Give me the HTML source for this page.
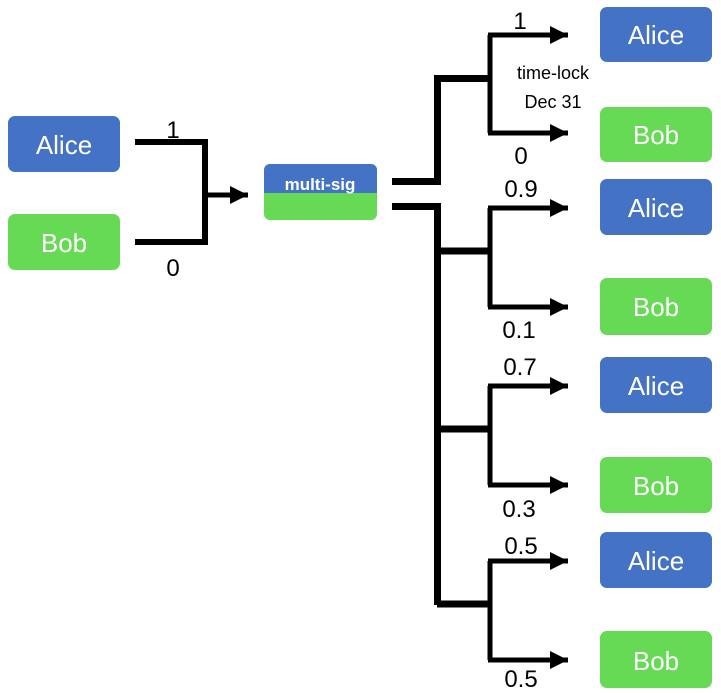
<!DOCTYPE html>
<html><head><meta charset="utf-8"><style>
html,body{margin:0;padding:0;background:#fff;}
svg{display:block;}
text{font-family:"Liberation Sans","DejaVu Sans",sans-serif;}
</style></head><body>
<svg width="721" height="693" viewBox="0 0 721 693" xmlns="http://www.w3.org/2000/svg">
<defs>
<marker id="ah" markerWidth="20" markerHeight="18" refX="18" refY="9" orient="auto" markerUnits="userSpaceOnUse">
<path d="M0,0 L18,9 L0,18 Z" fill="#000"/>
</marker>
</defs>
<!-- left boxes -->
<rect x="8" y="116" width="112" height="56" rx="7" fill="#4472C4"/>
<text x="64" y="154" font-size="26" fill="#fff" text-anchor="middle">Alice</text>
<rect x="8" y="214" width="112" height="56" rx="7" fill="#66DA55"/>
<text x="64" y="252" font-size="26" fill="#fff" text-anchor="middle">Bob</text>
<!-- left connector -->
<path d="M135,142 H205 V242 H135" fill="none" stroke="#000" stroke-width="6"/>
<line x1="205" y1="195" x2="248" y2="195" stroke="#000" stroke-width="5" marker-end="url(#ah)"/>
<text x="173" y="138" font-size="24" text-anchor="middle">1</text>
<text x="173" y="276" font-size="24" text-anchor="middle">0</text>
<!-- multisig -->
<rect x="264" y="164" width="113" height="56" rx="6" fill="#66DA55"/>
<path d="M264,193 V170 a6,6 0 0 1 6,-6 H371 a6,6 0 0 1 6,6 V193 Z" fill="#4472C4"/>
<text x="320" y="190" font-size="17" font-weight="bold" fill="#fff" text-anchor="middle">multi-sig</text>
<!-- right thick lines -->
<path d="M392,181.5 H437.5 V78.5 H490" fill="none" stroke="#000" stroke-width="7"/>
<path d="M392,206.5 H437.5 V605" fill="none" stroke="#000" stroke-width="7"/>
<path d="M437,251 H490 M437,429 H490 M437,604 H490" fill="none" stroke="#000" stroke-width="7"/>
<!-- branches -->
<g fill="none" stroke="#000" stroke-width="5">
<path d="M490,35 V133"/><path d="M490,208 V307"/><path d="M490,386 V485"/><path d="M490,561 V660"/>
</g>
<g stroke="#000" stroke-width="5">
<line x1="488" y1="35" x2="568" y2="35" marker-end="url(#ah)"/>
<line x1="488" y1="133" x2="568" y2="133" marker-end="url(#ah)"/>
<line x1="488" y1="208" x2="568" y2="208" marker-end="url(#ah)"/>
<line x1="488" y1="307" x2="568" y2="307" marker-end="url(#ah)"/>
<line x1="488" y1="386" x2="568" y2="386" marker-end="url(#ah)"/>
<line x1="488" y1="485" x2="568" y2="485" marker-end="url(#ah)"/>
<line x1="488" y1="561" x2="568" y2="561" marker-end="url(#ah)"/>
<line x1="488" y1="660" x2="568" y2="660" marker-end="url(#ah)"/>
</g>
<!-- labels -->
<g font-size="24" text-anchor="middle">
<text x="520" y="29">1</text>
<text x="521" y="164">0</text>
<text x="521" y="197">0.9</text>
<text x="519" y="338">0.1</text>
<text x="520" y="375">0.7</text>
<text x="519" y="517">0.3</text>
<text x="521" y="554">0.5</text>
<text x="521" y="687">0.5</text>
</g>
<text x="553" y="79" font-size="18" text-anchor="middle">time-lock</text>
<text x="553" y="108" font-size="18" text-anchor="middle">Dec 31</text>
<!-- right boxes -->
<g font-size="26" fill="#fff" text-anchor="middle">
<rect x="600" y="7" width="112" height="55" rx="7" fill="#4472C4"/><text x="656" y="44">Alice</text>
<rect x="600" y="107" width="112" height="55" rx="7" fill="#66DA55"/><text x="656" y="144">Bob</text>
<rect x="600" y="179" width="112" height="56" rx="7" fill="#4472C4"/><text x="656" y="217">Alice</text>
<rect x="600" y="278" width="112" height="57" rx="7" fill="#66DA55"/><text x="656" y="316">Bob</text>
<rect x="600" y="357" width="112" height="56" rx="7" fill="#4472C4"/><text x="656" y="395">Alice</text>
<rect x="600" y="457" width="112" height="56" rx="7" fill="#66DA55"/><text x="656" y="495">Bob</text>
<rect x="600" y="532" width="112" height="56" rx="7" fill="#4472C4"/><text x="656" y="570">Alice</text>
<rect x="600" y="631" width="112" height="57" rx="7" fill="#66DA55"/><text x="656" y="670">Bob</text>
</g>
</svg>
</body></html>
